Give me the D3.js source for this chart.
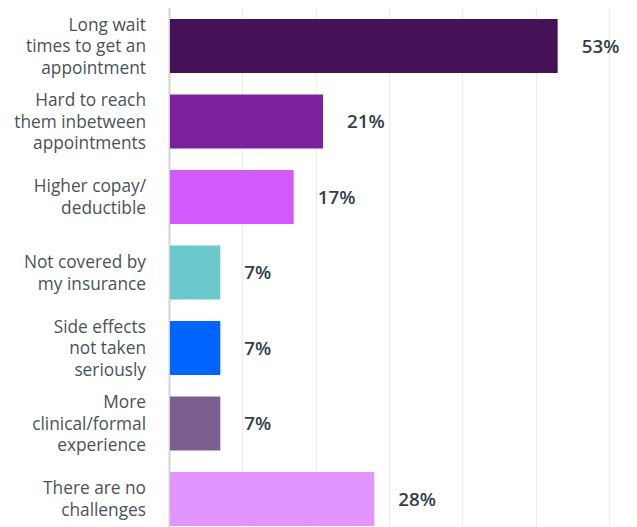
<!DOCTYPE html>
<html>
<head>
<meta charset="utf-8">
<script src="https://cdn.jsdelivr.net/npm/d3@7"></script>
<style>
  html, body { margin: 0; padding: 0; background: #fff; }
  svg { display: block; }
</style>
</head>
<body>
<svg id="chart" width="637" height="527"></svg>
<script>
// Answer options (one array entry per text line) and share of respondents
const categories = [
  ["Long wait", "times to get an", "appointment"],
  ["Hard to reach", "them inbetween", "appointments"],
  ["Higher copay/", "deductible"],
  ["Not covered by", "my insurance"],
  ["Side effects", "not taken", "seriously"],
  ["More", "clinical/formal", "experience"],
  ["There are no", "challenges"]
];
const values = [53, 21, 17, 7, 7, 7, 28];
const barColors = ["#461257", "#7b219f", "#d25afc", "#6bc8cd", "#0065ff", "#7d5e90", "#e295ff"];
const gridTicks = [0, 10, 20, 30, 40, 50, 60];

(function draw() {
  const svg = d3.select("#chart");
  const H = 527;
  const plotLeft = 169, plotRight = 609;
  const firstBarTop = 19, step = 75.5, barH = 54;
  const pad = (step - barH) / step;

  const x = d3.scaleLinear().domain([0, 60]).range([plotLeft, plotRight]);
  const y0 = firstBarTop - (step - barH) / 2;
  const y = d3.scaleBand()
    .domain(d3.range(values.length))
    .range([y0, y0 + step * values.length])
    .paddingInner(pad)
    .paddingOuter(pad / 2);

  // vertical gridlines
  svg.append("g").selectAll("line")
    .data(gridTicks)
    .join("line")
    .attr("x1", d => Math.round(x(d)) + 0.5)
    .attr("x2", d => Math.round(x(d)) + 0.5)
    .attr("y1", 8)
    .attr("y2", H)
    .attr("stroke", d => d === 0 ? "#d4d4d6" : "#ececee")
    .attr("stroke-width", d => d === 0 ? 2 : 1.2);

  // bars
  svg.append("g").selectAll("rect")
    .data(values)
    .join("rect")
    .attr("x", x(0) + 1)
    .attr("y", (d, i) => y(i))
    .attr("width", d => x(d) - x(0) - 1)
    .attr("height", y.bandwidth())
    .attr("fill", (d, i) => barColors[i]);

  // value labels
  svg.append("g").selectAll("text")
    .data(values)
    .join("text")
    .attr("x", d => x(d) + 24)
    .attr("y", (d, i) => y(i) + y.bandwidth() / 2)
    .attr("dy", "0.36em")
    .attr("font-family", "'Open Sans', Lato, sans-serif")
    .attr("font-weight", 600)
    .attr("font-size", 18.8)
    .attr("fill", "#333e48")
    .text(d => d + "%");

  // category labels, right-aligned beside the axis
  const lineH = 21.7;
  svg.append("g").selectAll("text")
    .data(categories)
    .join("text")
    .attr("text-anchor", "end")
    .attr("font-family", "'Open Sans', Lato, sans-serif")
    .attr("font-size", 17.3)
    .attr("fill", "#4a5259")
    .each(function (lines, i) {
      const cy = y(i) + y.bandwidth() / 2;
      const ty = cy - (lines.length - 1) * lineH / 2;
      d3.select(this).selectAll("tspan")
        .data(lines)
        .join("tspan")
        .attr("x", 146)
        .attr("y", (d, j) => ty + j * lineH)
        .attr("dy", "0.36em")
        .text(d => d);
    });
})();
</script>
</body>
</html>
